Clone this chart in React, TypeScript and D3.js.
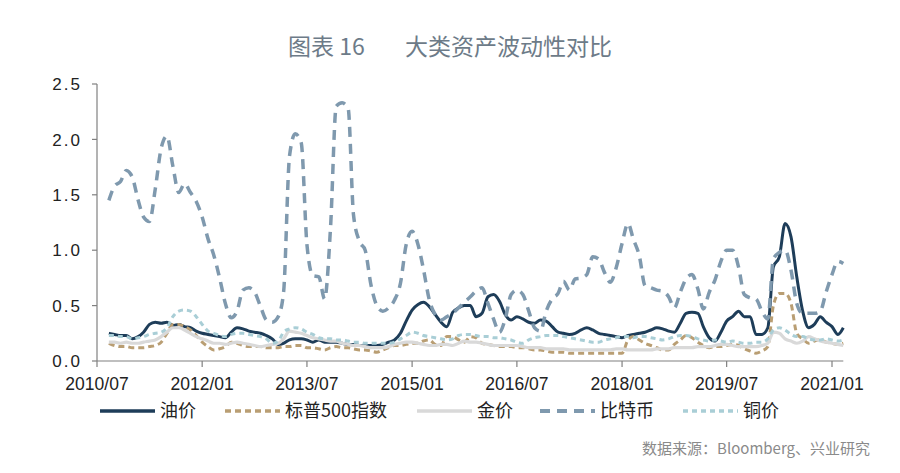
import React from "react";
import * as d3 from "d3";

const START = new Date(2010, 8, 1); // 2010/09, first monthly observation

const oil = [0.25,0.24,0.23,0.23,0.20,0.22,0.26,0.33,0.35,0.34,0.35,0.32,0.33,0.31,0.30,0.27,0.25,0.24,0.23,0.22,0.21,0.26,0.30,0.29,0.27,0.26,0.25,0.23,0.20,0.15,0.16,0.19,0.20,0.20,0.19,0.17,0.19,0.17,0.17,0.17,0.16,0.15,0.15,0.14,0.14,0.14,0.14,0.15,0.17,0.19,0.25,0.36,0.46,0.51,0.53,0.49,0.42,0.35,0.31,0.44,0.48,0.50,0.50,0.40,0.43,0.58,0.60,0.54,0.42,0.37,0.40,0.38,0.35,0.34,0.37,0.36,0.31,0.26,0.25,0.24,0.25,0.28,0.30,0.28,0.25,0.24,0.23,0.22,0.21,0.23,0.24,0.25,0.26,0.28,0.30,0.29,0.27,0.26,0.34,0.43,0.44,0.43,0.31,0.21,0.18,0.26,0.36,0.40,0.45,0.40,0.40,0.24,0.24,0.30,0.85,0.94,1.24,1.12,0.76,0.45,0.30,0.33,0.40,0.35,0.31,0.24,0.30];

const sp500 = [0.16,0.14,0.13,0.13,0.12,0.12,0.12,0.13,0.14,0.17,0.25,0.33,0.33,0.31,0.28,0.23,0.17,0.13,0.10,0.11,0.13,0.17,0.16,0.14,0.13,0.13,0.13,0.12,0.12,0.12,0.13,0.13,0.14,0.14,0.12,0.12,0.11,0.10,0.12,0.13,0.12,0.12,0.11,0.10,0.10,0.09,0.08,0.10,0.12,0.14,0.14,0.15,0.16,0.16,0.18,0.19,0.15,0.14,0.22,0.22,0.19,0.17,0.22,0.21,0.16,0.15,0.14,0.13,0.13,0.13,0.12,0.12,0.11,0.10,0.10,0.09,0.08,0.08,0.08,0.07,0.07,0.07,0.07,0.07,0.07,0.07,0.07,0.07,0.07,0.19,0.22,0.19,0.16,0.14,0.12,0.10,0.10,0.15,0.19,0.23,0.21,0.17,0.14,0.12,0.13,0.13,0.14,0.15,0.14,0.11,0.09,0.07,0.09,0.13,0.50,0.61,0.61,0.52,0.25,0.20,0.16,0.18,0.19,0.17,0.16,0.15,0.16];

const gold = [0.17,0.17,0.16,0.17,0.16,0.16,0.17,0.18,0.19,0.22,0.26,0.30,0.30,0.28,0.25,0.22,0.20,0.18,0.16,0.16,0.15,0.16,0.17,0.16,0.15,0.14,0.13,0.14,0.15,0.16,0.20,0.27,0.26,0.25,0.23,0.21,0.20,0.19,0.18,0.18,0.16,0.15,0.14,0.14,0.13,0.12,0.12,0.12,0.13,0.15,0.16,0.17,0.17,0.16,0.15,0.14,0.14,0.15,0.15,0.14,0.16,0.18,0.17,0.17,0.16,0.15,0.14,0.14,0.14,0.14,0.14,0.13,0.12,0.12,0.12,0.11,0.11,0.11,0.11,0.10,0.10,0.10,0.10,0.10,0.10,0.10,0.10,0.11,0.11,0.10,0.10,0.10,0.10,0.10,0.11,0.11,0.11,0.12,0.12,0.12,0.12,0.13,0.13,0.13,0.14,0.15,0.15,0.14,0.13,0.13,0.13,0.13,0.14,0.16,0.26,0.25,0.20,0.18,0.16,0.18,0.22,0.20,0.18,0.17,0.16,0.15,0.14];

const bitcoin = [1.45,1.58,1.62,1.72,1.66,1.45,1.30,1.26,1.55,1.92,2.03,1.76,1.52,1.60,1.52,1.44,1.30,1.10,0.96,0.75,0.52,0.39,0.45,0.64,0.66,0.62,0.49,0.37,0.35,0.40,0.62,1.85,2.05,1.97,1.05,0.77,0.76,0.56,1.20,2.30,2.33,2.28,1.32,1.08,1.00,0.68,0.50,0.45,0.48,0.55,0.70,1.05,1.17,1.05,0.83,0.55,0.42,0.37,0.40,0.43,0.48,0.53,0.58,0.63,0.66,0.52,0.38,0.26,0.38,0.60,0.64,0.60,0.45,0.30,0.27,0.45,0.56,0.61,0.72,0.64,0.74,0.75,0.78,0.94,0.92,0.80,0.71,0.84,1.06,1.24,1.10,0.95,0.68,0.66,0.64,0.63,0.58,0.48,0.62,0.74,0.78,0.65,0.47,0.62,0.73,0.90,1.00,1.00,0.85,0.60,0.57,0.56,0.45,0.38,0.92,0.98,1.00,0.82,0.52,0.43,0.43,0.43,0.45,0.62,0.78,0.90,0.88];

const copper = [0.23,0.23,0.22,0.22,0.20,0.21,0.22,0.24,0.25,0.26,0.30,0.40,0.45,0.46,0.45,0.40,0.33,0.27,0.25,0.23,0.22,0.24,0.25,0.25,0.24,0.23,0.22,0.20,0.16,0.18,0.26,0.29,0.30,0.29,0.26,0.24,0.21,0.20,0.20,0.19,0.19,0.18,0.17,0.17,0.16,0.16,0.16,0.16,0.16,0.17,0.20,0.23,0.26,0.25,0.23,0.22,0.21,0.20,0.19,0.20,0.23,0.24,0.24,0.23,0.22,0.22,0.21,0.21,0.20,0.19,0.17,0.16,0.19,0.21,0.22,0.23,0.23,0.23,0.22,0.21,0.20,0.19,0.18,0.17,0.17,0.19,0.20,0.21,0.22,0.22,0.21,0.22,0.22,0.21,0.20,0.19,0.20,0.22,0.23,0.23,0.22,0.20,0.19,0.18,0.19,0.18,0.17,0.18,0.17,0.16,0.16,0.17,0.17,0.20,0.28,0.30,0.28,0.24,0.22,0.22,0.20,0.19,0.19,0.20,0.19,0.18,0.19];

const seriesNames = ["油价", "标普500指数", "金价", "比特币", "铜价"];
const yTicks = [0, 0.5, 1.0, 1.5, 2.0, 2.5];
const xTickLabels = ["2010/07", "2012/01", "2013/07", "2015/01", "2016/07", "2018/01", "2019/07", "2021/01"];

const styles = [
  { color: "#1e3d59", width: 3, dash: "" },
  { color: "#b99e73", width: 3, dash: "6,4" },
  { color: "#d9d9d9", width: 3.2, dash: "" },
  { color: "#7f99ae", width: 3.5, dash: "10,7" },
  { color: "#a9ced6", width: 3, dash: "5,4" },
];

export default function App() {
  const allData = [oil, sp500, gold, bitcoin, copper];
  const parse = d3.timeParse("%Y/%m");
  const x = d3.scaleTime().domain([parse("2010/07")!, parse("2021/01")!]).range([97, 832]);
  const y = d3.scaleLinear().domain([0, 2.5]).range([361, 84]);
  const dates = oil.map((_, i) => d3.timeMonth.offset(START, i));
  const line = d3
    .line<number>()
    .x((_, i) => x(dates[i]))
    .y((d) => y(d))
    .curve(d3.curveMonotoneX);
  const xEnd = x(d3.timeMonth.offset(START, oil.length - 1));
  const fmt = d3.format(".1f");

  const legendX = [100, 225, 417, 540, 683];

  return (
    <svg width={900} height={473} style={{ position: "absolute", left: 0, top: 0, background: "#fff" }}>
      <text x={288} y={55} fontFamily="'Noto Sans CJK SC', sans-serif" fontSize={23} fill="#6d7b88">
        图表 16
      </text>
      <text x={612} y={55} textAnchor="end" fontFamily="'Noto Sans CJK SC', sans-serif" fontSize={23} fill="#6d7b88">
        大类资产波动性对比
      </text>

      {/* y axis */}
      <line x1={97} x2={97} y1={y(2.5)} y2={y(0)} stroke="#808080" strokeWidth={1.2} />
      {yTicks.map((t) => (
        <g key={t}>
          <line x1={92} x2={97} y1={y(t)} y2={y(t)} stroke="#808080" strokeWidth={1.2} />
          <text x={82} y={y(t)} dy="0.36em" textAnchor="end" fontFamily="'Liberation Sans', Arial, sans-serif" fontSize={17} letterSpacing={2} fill="#222">
            {fmt(t)}
          </text>
        </g>
      ))}

      {/* x axis */}
      <line x1={97} x2={xEnd} y1={361} y2={361} stroke="#808080" strokeWidth={1.2} />
      {xTickLabels.map((lab) => {
        const xx = x(parse(lab)!);
        return (
          <g key={lab}>
            <line x1={xx} x2={xx} y1={361} y2={367} stroke="#808080" strokeWidth={1.2} />
            <text x={xx} y={390} textAnchor="middle" fontFamily="'Liberation Sans', Arial, sans-serif" fontSize={17.5} fill="#222">
              {lab}
            </text>
          </g>
        );
      })}

      {/* series */}
      {allData.map((d, i) => (
        <path
          key={seriesNames[i]}
          d={line(d) || ""}
          fill="none"
          stroke={styles[i].color}
          strokeWidth={styles[i].width}
          strokeDasharray={styles[i].dash || undefined}
          strokeLinejoin="round"
        />
      ))}

      {/* legend */}
      {seriesNames.map((name, i) => (
        <g key={name}>
          <line
            x1={legendX[i]}
            x2={legendX[i] + 55}
            y1={411}
            y2={411}
            stroke={styles[i].color}
            strokeWidth={styles[i].width + 0.5}
            strokeDasharray={styles[i].dash || undefined}
          />
          <text x={legendX[i] + 60} y={411} dy="0.36em" fontFamily="'Noto Sans CJK SC', sans-serif" fontSize={18} fill="#222">
            {name}
          </text>
        </g>
      ))}

      <text x={870} y={454} textAnchor="end" fontFamily="'Noto Sans CJK SC', sans-serif" fontSize={15} fill="#8a8a8a">
        数据来源：Bloomberg、兴业研究
      </text>
    </svg>
  );
}
